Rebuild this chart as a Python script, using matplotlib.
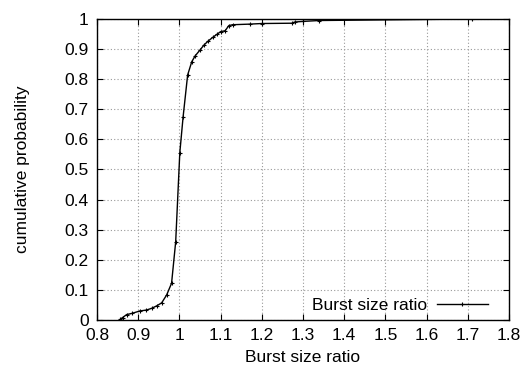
import matplotlib
matplotlib.use("Agg")
import matplotlib.pyplot as plt
from matplotlib.ticker import FormatStrFormatter, MultipleLocator

plt.rcParams['font.family'] = ['Liberation Sans', 'DejaVu Sans']

ratio = [0.857, 0.862, 0.872, 0.885, 0.904, 0.92, 0.933, 0.945, 0.957, 0.969,
         0.981, 0.991, 1.001, 1.009, 1.020, 1.030, 1.038, 1.050, 1.060, 1.070,
         1.081, 1.091, 1.100, 1.111, 1.120, 1.129, 1.171, 1.200, 1.273, 1.280,
         1.300, 1.340, 1.710]
prob = [0.003, 0.008, 0.018, 0.022, 0.030, 0.033, 0.039, 0.047, 0.057, 0.083,
        0.122, 0.260, 0.556, 0.675, 0.814, 0.858, 0.877, 0.897, 0.914, 0.927,
        0.939, 0.949, 0.958, 0.961, 0.978, 0.981, 0.983, 0.985, 0.986, 0.990,
        0.992, 0.995, 1.000]
series_label = "Burst size ratio"

fig = plt.figure(figsize=(5.26, 3.77), dpi=100)
ax = fig.add_axes([0.1844, 0.1512, 0.7833, 0.7984])
ax.plot(ratio, prob, color='black', linewidth=1.0, marker='+', markersize=3.5,
        markeredgewidth=0.8, label=series_label)
ax.set_xlim(0.8, 1.8)
ax.set_ylim(0, 1)
ax.xaxis.set_major_locator(MultipleLocator(0.1))
ax.yaxis.set_major_locator(MultipleLocator(0.1))
ax.xaxis.set_major_formatter(FormatStrFormatter('%g'))
ax.yaxis.set_major_formatter(FormatStrFormatter('%g'))
ax.grid(True, color='#999999', linestyle=(0, (1, 2)), linewidth=0.8)
ax.tick_params(direction='in', top=True, right=True, length=4, width=0.8,
               labelsize=12.5, pad=6, colors='black')
for s in ax.spines.values():
    s.set_linewidth(1.0)
ax.set_xlabel("Burst size ratio", fontsize=12.5, labelpad=5)
ax.set_ylabel("cumulative probability", fontsize=12.5, labelpad=25)
leg = ax.legend(loc='lower right', bbox_to_anchor=(0.965, 0.0), frameon=False,
                fontsize=12.5, markerfirst=False, handlelength=2.9,
                borderaxespad=0.0, handletextpad=0.6)
fig.savefig("out.png", dpi=100)
